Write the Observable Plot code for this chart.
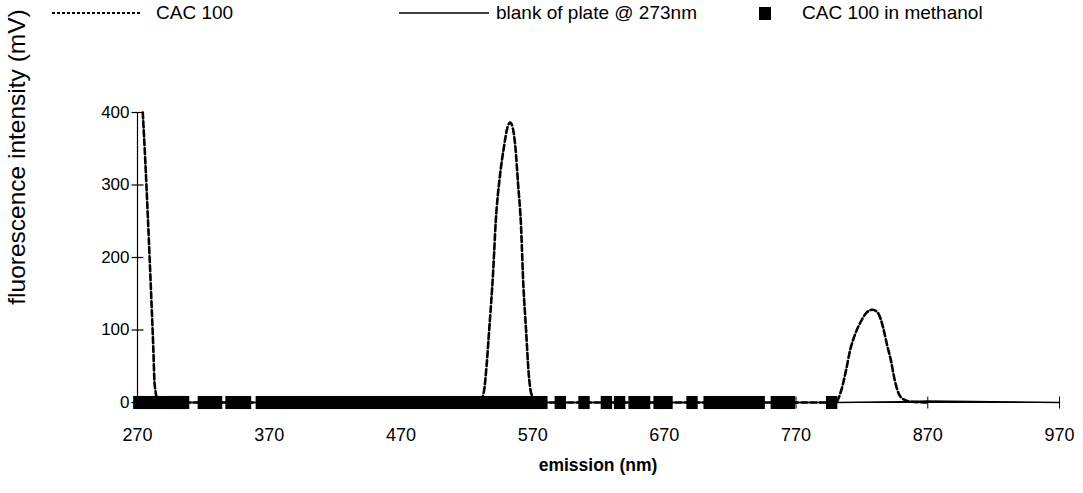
<!DOCTYPE html>
<html>
<head>
<meta charset="utf-8">
<script src="https://cdn.jsdelivr.net/npm/d3@7"></script>
<script src="https://cdn.jsdelivr.net/npm/@observablehq/plot@0.6"></script>
<style>
  html, body { margin: 0; padding: 0; background: #fff; }
  #wrap { position: relative; width: 1083px; height: 493px; font-family: "Liberation Sans", Arial, sans-serif; color: #000; overflow: hidden; }
  #chart { position: absolute; left: 0; top: 0; }
  .leg { position: absolute; top: 1px; font-size: 19px; line-height: 24px; white-space: nowrap; display: flex; align-items: center; }
  #ylab { position: absolute; left: 17px; top: 157px; transform: translate(-50%, -50%) rotate(-90deg); font-size: 24.5px; white-space: nowrap; }
  #xlab { position: absolute; left: 598px; top: 465px; transform: translate(-50%, -50%); font-size: 17.5px; font-weight: bold; white-space: nowrap; }
</style>
</head>
<body>
<div id="wrap">
  <div id="chart"></div>
  <div class="leg" style="left:52px"><svg width="92" height="6"><line x1="0" y1="3" x2="90" y2="3" stroke="#000" stroke-width="2" stroke-dasharray="3,2"/></svg><span style="margin-left:12px">CAC 100</span></div>
  <div class="leg" style="left:399px"><svg width="92" height="6"><line x1="0" y1="3" x2="90" y2="3" stroke="#000" stroke-width="1.5"/></svg><span style="margin-left:5px">blank of plate @ 273nm</span></div>
  <div class="leg" style="left:758px"><svg width="14" height="14"><rect x="1" y="1" width="12" height="13" fill="#000"/></svg><span style="margin-left:30px">CAC 100 in methanol</span></div>
  <div id="ylab">fluorescence intensity (mV)</div>
  <div id="xlab">emission (nm)</div>
</div>
<script>
// ---- data ----
const xTicks = [270, 370, 470, 570, 670, 770, 870, 970];
const yTicks = [0, 100, 200, 300, 400];

// CAC 100 (dashed)
const cacX = [274, 276, 278, 280, 282, 283, 285, 290, 530, 533, 535, 537, 540, 542, 545, 548, 551, 553, 555, 557, 559, 561, 563, 565, 567, 569, 572, 578, 800, 804, 808, 811, 815, 819, 823, 828, 832, 836, 839, 842, 845, 848, 852, 858, 870];
const cacY = [400, 330, 250, 165, 75, 25, 6, 0, 0, 15, 50, 100, 180, 250, 310, 350, 380, 386, 378, 350, 300, 250, 160, 100, 40, 12, 4, 0, 0, 15, 45, 72, 95, 111, 123, 128, 124, 104, 80, 58, 30, 12, 4, 1, 0];

// blank of plate @ 273nm (solid)
const blankX = [270, 400, 550, 700, 800, 850, 870, 920, 970];
const blankY = [0, 0, 0, 0, 0, 1, 2, 1, 0];

// CAC 100 in methanol (squares)
const methX = [271, 275, 279, 283, 287, 291, 295, 299, 302, 305,
  320, 325, 330,
  341, 346, 352,
  364, 369, 374, 379, 384, 389, 394, 399, 404, 409, 414, 419, 424, 429, 434, 439, 444, 449, 454, 459, 464, 469, 474, 479, 484, 489, 494, 499, 504, 509, 514, 519, 524, 529, 534, 539, 544, 549, 554, 559, 564, 569, 574, 577,
  591, 609, 626, 636, 647, 655, 666, 672, 691,
  704, 709, 714, 719, 724, 729, 734, 738, 742, 755, 760, 765,
  797];
const methY = methX.map(() => 0);

const cac = cacX.map((x, i) => ({x, y: cacY[i]}));
const blank = blankX.map((x, i) => ({x, y: blankY[i]}));
const meth = methX.map((x, i) => ({x, y: methY[i]}));

// custom symbols for crossing ticks
const vline = {draw(ctx, size) { const r = Math.sqrt(size / Math.PI); ctx.moveTo(0, -r); ctx.lineTo(0, r); }};
const hline = {draw(ctx, size) { const r = Math.sqrt(size / Math.PI); ctx.moveTo(-r, 0); ctx.lineTo(r, 0); }};
const tallSquare = {draw(ctx, size) { const r = Math.sqrt(size / Math.PI); const w = r * 1.7, h = r * 1.95; ctx.rect(-w / 2, -h / 2, w, h); }};

const chart = Plot.plot({
  width: 1083,
  height: 493,
  marginLeft: 137,
  marginRight: 24,
  marginTop: 112,
  marginBottom: 91,
  style: {fontFamily: "Liberation Sans, Arial, sans-serif", color: "#000", background: "#fff"},
  x: {domain: [270, 970]},
  y: {domain: [0, 400]},
  marks: [
    Plot.axisX({ticks: xTicks, tickSize: 0, tickPadding: 26, fontSize: 18, label: null}),
    Plot.axisY({ticks: yTicks, tickSize: 0, tickPadding: 8, fontSize: 17, label: null}),
    Plot.ruleY([0], {x1: 270, x2: 970, stroke: "#000", strokeWidth: 1}),
    Plot.ruleX([270], {y1: 0, y2: 400, stroke: "#000", strokeWidth: 1.2}),
    Plot.dot(xTicks, {x: d => d, y: () => 0, symbol: vline, r: 6, stroke: "#000", strokeWidth: 1}),
    Plot.dot(yTicks, {x: () => 270, y: d => d, symbol: hline, r: 6, stroke: "#000", strokeWidth: 1.2}),
    Plot.line(blank, {x: "x", y: "y", stroke: "#000", strokeWidth: 1.5}),
    Plot.line(cac, {x: "x", y: "y", stroke: "#000", strokeWidth: 2.6, strokeDasharray: "6,3", curve: "monotone-x"}),
    Plot.dot(meth, {x: "x", y: "y", symbol: tallSquare, r: 6.7, fill: "#000", stroke: null})
  ]
});
document.getElementById("chart").appendChild(chart);
</script>
</body>
</html>
